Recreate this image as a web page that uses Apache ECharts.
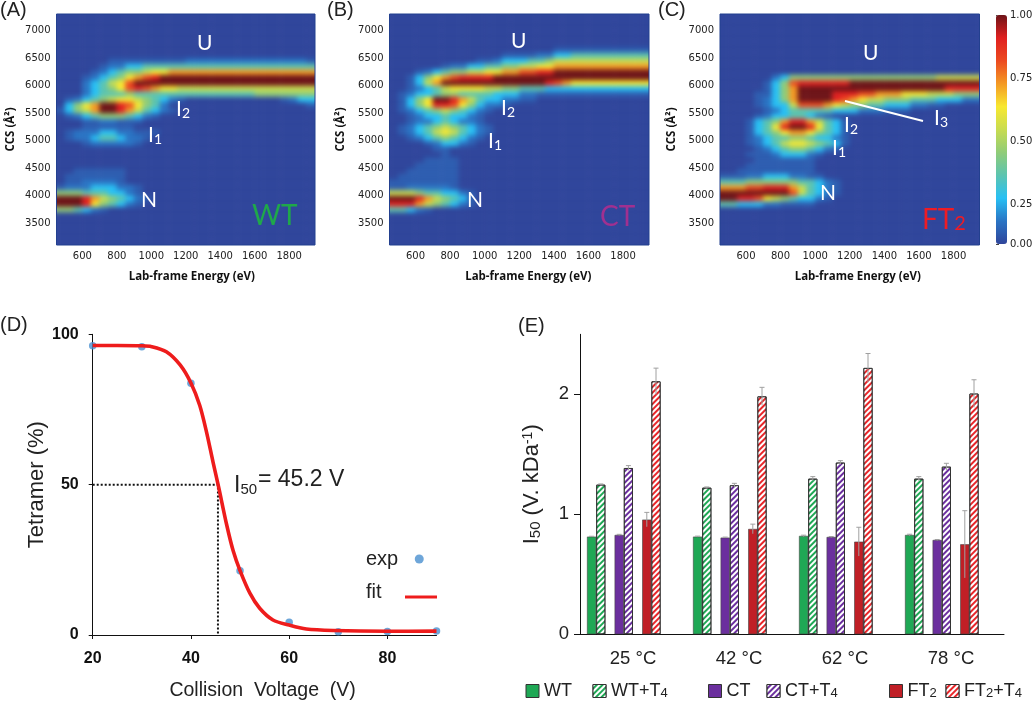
<!DOCTYPE html>
<html><head><meta charset="utf-8">
<script src="https://cdn.jsdelivr.net/npm/echarts@6/dist/echarts.min.js"></script>
<style>html,body{margin:0;background:#fff}#c{width:1035px;height:701px}</style></head>
<body><div id="c"></div>
<script>
// ---- heat maps: one string per CCS row (6650 down to 3650 Å), one char per 50 eV column from 450 eV
const heatRowsWT = [
"","",
"000000---------11111111111111-",
"00000-112233333333333333333333",
"0000-1234456677777777777777777",
"000-12346789aaaaaaaaaaaaaaaaaa",
"000123568aaaaaaaaaaaaaaaaaaaaa",
"000123468987665555555555555555",
"000123334333333333333334444444",
"0-123456654321-00000000000-122",
"02467aa9864310000000000000000-",
"-2457aa975321-",
"0-123444321-",
"000--11---",
"000------",
"0-1112211---",
"0-11233211-",
"000-11111-",
"","","","",
"00------",
"0-------",
"0--1111-",
"-11122211-",
"444333221-",
"aaa9754321-",
"aaa964321-",
"44321-",
""];
const heatRowsCT = [
"0000000000000000000-----------",
"0000000000000----1122333333333",
"0000000000--122233455555555555",
"000000-11223344556677777777777",
"000-123445566778899aaaaaaaaaaa",
"00-246789999aaaaaaaaaaaaaaaaaa",
"00-257aaaaaaaaaaaa987666666666",
"00-123566665544333222222222222",
"0-122344333322211-------------",
"0-246aa97532211--",
"0-24699864211-",
"0-123454321-",
"00-1223221-",
"00-1123211-",
"0-123454321-",
"0-123565321-",
"00-1234321-",
"0000-1221-",
"00000--",
"000000-",
"0000----",
"000-----",
"00------",
"0-------",
"--------",
"--11111-",
"555433221-",
"aaa975432-",
"999754321-",
"3321-",
""];
const heatRowsFT2 = [
"","","","","",
"000000124444444444444444455555",
"00000-248999999aaaaaaaaaaaaaaa",
"00000-247aaaaaaaaaaaaaaaaa9999",
"0000--247aaaa99988777666555444",
"0000-1247aaaa98765544433322211",
"0000-1225888765443322211--0000",
"00000-1233333222111---",
"0000-1223321-",
"000-2347997532-",
"000-2369aa9632-",
"000-2346776432-",
"000-1233443221-",
"000-1235665432-",
"0000-12344321-",
"000---12221-",
"0000-------",
"000--------",
"00---------",
"---1122211--",
"3334444443321-",
"7778899975321-",
"aaaaaaaa85321-",
"aa9986543221-",
"3322211----",
"",""];
const ccsTop = 6650, ccsStep = 100, ccsMin = 3100, ccsMax = 7300;
const energyMin = 450, energyMax = 1950, energyStep = 50;
const energyTicks = [600,800,1000,1200,1400,1600,1800];
const ccsTicks = [3500,4000,4500,5000,5500,6000,6500,7000];
const heatColors = ['#2f459b','#2a74c4','#28c0f4','#5cc4b0','#90cc78','#c8dc50','#f8e830','#f49a24','#ec4a20','#e02020','#6e1418'];
const barTickPos = [0,0.172,0.448,0.725,1];
const barTickLabels = ['0.00','0.25','0.50','0.75','1.00'];

// ---- panel D
const expVoltage = [20,30,40,50,60,70,80,90];
const expTetramer = [96.2,95.9,83.7,21.4,4.2,1.1,1.2,1.3];
const fitVoltage = [20,25,30,32,35,37.8,40,41.8,43.2,44.5,45.6,47.3,48.6,50,52,54,56.7,60,63.5,69,80,90];
const fitTetramer = [96.3,96.3,96.2,95.9,94.2,89.8,83.8,76.3,67.3,57.5,49.5,36.5,28,21.4,13.9,8.9,5,3.3,2,1.5,1.25,1.3];
const i50 = 45.5;

// ---- panel E
const temps = ['25 °C','42 °C','62 °C','78 °C'];
const wt    = [0.814,0.814,0.82,0.828];
const wtT4  = [1.247,1.222,1.297,1.297];
const ct    = [0.828,0.806,0.811,0.786];
const ctT4  = [1.386,1.242,1.431,1.397];
const ft2   = [0.956,0.878,0.772,0.75];
const ft2T4 = [2.108,1.983,2.22,2.006];
const wtErr    = [0.003,0.004,0.006,0.006];
const wtT4Err  = [0.006,0.006,0.017,0.017];
const ctErr    = [0.005,0.004,0.004,0.004];
const ctT4Err  = [0.02,0.016,0.016,0.028];
const ft2Err   = [0.06,0.04,0.12,0.28];
const ft2T4Err = [0.11,0.075,0.12,0.115];

const heatRows = [heatRowsWT,heatRowsCT,heatRowsFT2];
const nCols = (energyMax-energyMin)/energyStep, nRows = (ccsMax-ccsMin)/ccsStep;
const padRows = 2;
function level(ch){ if(ch==='-')return 0.05; if(ch==='a')return 1; return (+ch||0)/10; }
function heatData(rows){
  const out=[];
  for(let r=-padRows;r<nRows+padRows;r++){
    const ccs=ccsMin+ccsStep*r+ccsStep/2;
    const idx=Math.round((ccsTop-ccs)/ccsStep);
    const s=(idx>=0&&idx<rows.length)?rows[idx]:'';
    for(let c=-1;c<=nCols;c++){
      const cc=Math.max(0,Math.min(nCols-1,c));
      out.push([c+1,r+padRows,level(s[cc]||'0')]);
    }
  }
  return out;
}
const catX=Array.from({length:nCols+2},(_,i)=>energyMin+energyStep*(i-1)+energyStep/2);
const catY=Array.from({length:nRows+2*padRows},(_,i)=>ccsMin+ccsStep*(i-padRows)+ccsStep/2);

const plotTop=14, plotH=231;
const heatGrids=[{left:56.5,w:258.5,gap:40,pad:12},{left:389.5,w:259.5,gap:43,pad:18},{left:720,w:259.5,gap:42,pad:16}];
const grids=[],xAxes=[],yAxes=[],series=[];
const tickFont={color:'#222',fontFamily:'DejaVu Sans',fontSize:10};
const titleFont={color:'#111',fontFamily:'Open Sans',fontWeight:'bold',fontSize:11.5};
const rowH=plotH/nRows;
heatGrids.forEach((g,i)=>{
  const colW=g.w/nCols;
  grids.push({left:g.left-colW,top:plotTop-padRows*rowH,width:g.w+2*colW,height:plotH+2*padRows*rowH,outerBoundsMode:'none'});
  xAxes.push({type:'category',gridIndex:i,data:catX,show:false});
  yAxes.push({type:'category',gridIndex:i,data:catY,show:false});
  series.push({type:'heatmap',xAxisIndex:i,yAxisIndex:i,data:heatData(heatRows[i]),progressive:0,silent:true,zlevel:-1});
});
heatGrids.forEach((g,i)=>{
  const gi=grids.length;
  grids.push({left:g.left,top:plotTop,width:g.w,height:plotH,show:true,backgroundColor:'transparent',borderColor:'#23408f',borderWidth:1,outerBoundsMode:'none'});
  xAxes.push({type:'value',gridIndex:gi,position:'bottom',min:energyMin,max:energyMax,splitLine:{show:false},axisLine:{show:false},axisTick:{show:false},
    axisLabel:{customValues:energyTicks,margin:6,...tickFont,formatter:v=>String(v)},
    name:'Lab-frame Energy (eV)',nameLocation:'middle',nameGap:26,nameTextStyle:{...titleFont,padding:[0,0,0,g.pad]}});
  yAxes.push({type:'value',gridIndex:gi,position:'left',min:ccsMin,max:ccsMax,splitLine:{show:false},axisLine:{show:false},axisTick:{show:false},
    axisLabel:{customValues:ccsTicks,margin:6,...tickFont,formatter:v=>String(v)},
    name:'CCS (Å²)',nameLocation:'middle',nameGap:g.gap,nameTextStyle:{...titleFont}});
});
// colour bar scale
grids.push({left:996,top:15,width:11,height:229,outerBoundsMode:'none'});
xAxes.push({type:'value',gridIndex:6,show:false,min:0,max:1});
yAxes.push({type:'value',gridIndex:6,position:'right',min:0,max:1,splitLine:{show:false},axisLine:{show:false},
  axisTick:{show:true,length:3,lineStyle:{color:'#444'},customValues:barTickPos},
  axisLabel:{customValues:barTickPos,margin:3,...tickFont,formatter:v=>barTickLabels[barTickPos.indexOf(v)]}});
// panel D
grids.push({left:92.7,top:334.3,width:343.8,height:300.7,outerBoundsMode:'none'});
xAxes.push({type:'value',gridIndex:7,min:20,max:90,splitLine:{show:false},
  axisLine:{lineStyle:{color:'#111',width:1}},axisTick:{show:true,length:4,lineStyle:{color:'#111'},customValues:[20,40,60,80]},
  axisLabel:{customValues:[20,40,60,80],margin:16,color:'#111',fontFamily:'Liberation Sans',fontWeight:'bold',fontSize:16},
  name:'Collision  Voltage  (V)',nameLocation:'middle',nameGap:46,nameTextStyle:{color:'#222',fontFamily:'Liberation Sans',fontSize:19.5,padding:[0,4,0,0]}});
yAxes.push({type:'value',gridIndex:7,min:0,max:100,interval:50,splitLine:{show:false},
  axisLine:{show:true,lineStyle:{color:'#111',width:1}},axisTick:{show:true,length:4,lineStyle:{color:'#111'}},
  axisLabel:{margin:14,color:'#111',fontFamily:'Liberation Sans',fontWeight:'bold',fontSize:16},
  name:'Tetramer (%)',nameLocation:'middle',nameGap:44,nameTextStyle:{color:'#222',fontFamily:'Liberation Sans',fontSize:22}});
series.push({name:'I50 guide',type:'line',xAxisIndex:7,yAxisIndex:7,data:[[20,50],[i50,50],[i50,0]],symbol:'none',silent:true,
  lineStyle:{color:'#111',width:2,type:[2,2]}});
series.push({name:'exp',type:'scatter',xAxisIndex:7,yAxisIndex:7,data:expVoltage.map((v,i)=>[v,expTetramer[i]]),symbolSize:7.5,
  clip:false,itemStyle:{color:'#4a90d0'}});
series.push({name:'fit',type:'line',xAxisIndex:7,yAxisIndex:7,data:fitVoltage.map((v,i)=>[v,fitTetramer[i]]),smooth:0.3,symbol:'none',
  clip:false,lineStyle:{color:'#ee1c1c',width:3.6},itemStyle:{color:'#ee1c1c'}});
// panel E
grids.push({left:580,top:334.3,width:424,height:300,outerBoundsMode:'none'});
xAxes.push({type:'category',gridIndex:8,data:temps,axisLine:{lineStyle:{color:'#111',width:1}},axisTick:{show:false},
  axisLabel:{margin:15,color:'#222',fontFamily:'Liberation Sans',fontSize:18.5}});
yAxes.push({type:'value',gridIndex:8,min:0,max:2.5,splitLine:{show:false},
  axisLine:{show:true,lineStyle:{color:'#111',width:1}},axisTick:{show:true,length:6,lineStyle:{color:'#111'},customValues:[0,1,2]},
  axisLabel:{customValues:[0,1,2],margin:11,color:'#222',fontFamily:'Liberation Sans',fontSize:18.5},
  name:'{m|I}{s|50}{m| (V. kDa}{u|-1}{m|)}',nameLocation:'middle',nameGap:37,nameTextStyle:{color:'#222',
    rich:{m:{fontFamily:'Liberation Sans',fontSize:22,color:'#222',lineHeight:22,verticalAlign:'middle'},
          s:{fontFamily:'Liberation Sans',fontSize:15,color:'#222',lineHeight:15,padding:[12,0,0,0],verticalAlign:'bottom'},
          u:{fontFamily:'Liberation Sans',fontSize:14,color:'#222',lineHeight:14,padding:[0,0,9,0],verticalAlign:'top'}}}});
const barSlots=10, barFrac=9.2/106;
const hatch={symbol:'rect',symbolSize:1,dashArrayX:[1,0],dashArrayY:[1.6,1.6],rotation:-Math.PI/4,color:'#ffffff'};
const barDefs=[
 {name:'WT',v:wt,e:wtErr,c:'#1fa855',slot:0},
 {name:'WT+T4',v:wtT4,e:wtT4Err,c:'#1fa855',slot:1,h:1},
 {name:'CT',v:ct,e:ctErr,c:'#6b2f9e',slot:3},
 {name:'CT+T4',v:ctT4,e:ctT4Err,c:'#6b2f9e',slot:4,h:1},
 {name:'FT2',v:ft2,e:ft2Err,c:'#c01f26',slot:6},
 {name:'FT2+T4',v:ft2T4,e:ft2T4Err,c:'#e8262a',slot:7,h:1}];
const barPct=(barFrac*100)+'%';
for(let s=0;s<barSlots;s++){
  const d=barDefs.find(b=>b.slot===s);
  if(d){
    const itemStyle={color:d.c,borderColor:d.h?'#333':'#444',borderWidth:d.h?1:0.6};
    if(d.h) itemStyle.decal=hatch;
    series.push({name:d.name,type:'bar',xAxisIndex:8,yAxisIndex:8,data:d.v,barWidth:barPct,barGap:0,itemStyle});
  } else series.push({name:'slot'+s,type:'bar',xAxisIndex:8,yAxisIndex:8,data:[null,null,null,null],barWidth:barPct,barGap:0,silent:true});
}
barDefs.forEach(d=>{
  series.push({type:'custom',xAxisIndex:8,yAxisIndex:8,silent:true,clip:false,z:5,
    data:d.v.map((v,i)=>[i,v,d.e[i]]),encode:{x:0,y:1},
    renderItem:(p,api)=>{
      const v=api.value(1),e=api.value(2);
      const band=api.size([1,0])[0], off=(d.slot-(barSlots-1)/2)*band*barFrac;
      const a=api.coord([api.value(0),v+e]),b=api.coord([api.value(0),v-e]);
      const x=a[0]+off, st={stroke:'#a0a0a0',lineWidth:1,fill:null};
      return {type:'group',children:[
        {type:'line',shape:{x1:x,y1:a[1],x2:x,y2:b[1]},style:st},
        {type:'line',shape:{x1:x-2.5,y1:a[1],x2:x+2.5,y2:a[1]},style:st}]};
    }});
});

// legends
const legendRich={s:{fontFamily:'Liberation Sans',fontSize:13,color:'#222',padding:[8,0,0,0],verticalAlign:'bottom',lineHeight:13},
  m:{fontFamily:'Liberation Sans',fontSize:18,color:'#222',lineHeight:18,verticalAlign:'top'}};
const legendDefs=[
 {n:'WT',x:525.5,f:'{m|WT}{s| }'},{n:'WT+T4',x:592.5,f:'{m|WT+T}{s|4}'},
 {n:'CT',x:708,f:'{m|CT}{s| }'},{n:'CT+T4',x:766.5,f:'{m|CT+T}{s|4}'},
 {n:'FT2',x:889,f:'{m|FT}{s|2}'},{n:'FT2+T4',x:945.5,f:'{m|FT}{s|2}{m|+T}{s|4}'}];
const legends=legendDefs.map(l=>({data:[l.n],left:l.x,top:679,padding:0,itemWidth:13,itemHeight:13,icon:'rect',selectedMode:false,
  formatter:()=>l.f,itemStyle:{borderColor:'#333',borderWidth:1},textStyle:{rich:legendRich}}));
legends.push({data:['exp'],orient:'vertical',align:'right',left:366,top:549,padding:0,itemWidth:32,itemHeight:9,selectedMode:false,
  textStyle:{fontFamily:'Liberation Sans',fontSize:20,color:'#222'}});
legends.push({data:['fit'],orient:'vertical',align:'right',left:366,top:582,padding:0,itemWidth:32,itemHeight:3,icon:'rect',selectedMode:false,
  formatter:'{a|fit}',textStyle:{rich:{a:{width:34,align:'left',fontFamily:'Liberation Sans',fontSize:20,color:'#222',padding:[0,0,10,0]}}}});

// annotations
function note(x,y,main,sub,color,size,subSize,font){
  const rich={m:{font:`${size}px ${font||'Lato'}`,fill:color,lineHeight:size,verticalAlign:'top'},
              s:{font:`${subSize}px ${font||'Lato'}`,fill:color,lineHeight:subSize,padding:[Math.round(size*0.55),0,0,0],verticalAlign:'bottom'}};
  return {type:'text',left:x,top:y,z:50,silent:true,style:{text:`{m|${main}}`+(sub?`{s|${sub}}`:''),rich,fill:color}};
}
const graphics=[
 ...[['(A)',0,0],['(B)',327,0],['(C)',658,0],['(D)',0,315],['(E)',518,316]].map(a=>note(a[1],a[2],a[0],'','#222',20,0,'Liberation Sans')),
 note(197,33,'U','','#fff',21,0),note(176,94,'I','2','#fff',21,14),note(148,120,'I','1','#fff',21,14),note(141,190,'N','','#fff',21,0),
 note(511,31,'U','','#fff',21,0),note(501,93,'I','2','#fff',21,14),note(488,126,'I','1','#fff',21,14),note(467,190,'N','','#fff',21,0),
 note(863,43,'U','','#fff',21,0),note(844,110,'I','2','#fff',21,14),note(832,133,'I','1','#fff',21,14),note(820,183,'N','','#fff',21,0),note(934,103,'I','3','#fff',21,14),
 note(252,202,'WT','','#1fa84a',28,0),note(600,203,'CT','','#a03090',28,0),note(922,199,'FT','2','#ee1c25',28,20),
 {type:'line',z:50,silent:true,shape:{x1:845,y1:101,x2:923,y2:121},style:{stroke:'#fff',lineWidth:2}},
 note(234,469,'I','50','#222',23,15,'Liberation Sans'),
 {type:'text',left:258,top:468,z:50,silent:true,style:{text:'= 45.2 V',font:'23px Liberation Sans',fill:'#222'}}
];

const chart=echarts.init(document.getElementById('c'),null,{renderer:'canvas'});
chart.setOption({animation:false,grid:grids,xAxis:xAxes,yAxis:yAxes,series,legend:legends,graphic:graphics,
  visualMap:{type:'continuous',min:0,max:1,seriesIndex:[0,1,2],left:996,top:15,itemWidth:11,itemHeight:229,padding:0,calculable:false,
    hoverLink:false,showLabel:false,inRange:{color:heatColors},textStyle:{color:'rgba(0,0,0,0)',fontSize:1}}});
// soften the heat-map layer and keep it inside the three plot frames
const heatLayer=document.querySelector('canvas[data-zr-dom-id="zr_-1"]');
if(heatLayer){
  heatLayer.style.filter='blur(2.4px)';
  heatLayer.style.clipPath="path('"+heatGrids.map(g=>`M${g.left} ${plotTop}H${g.left+g.w}V${plotTop+plotH}H${g.left}Z`).join(' ')+"')";
}
</script></body></html>
